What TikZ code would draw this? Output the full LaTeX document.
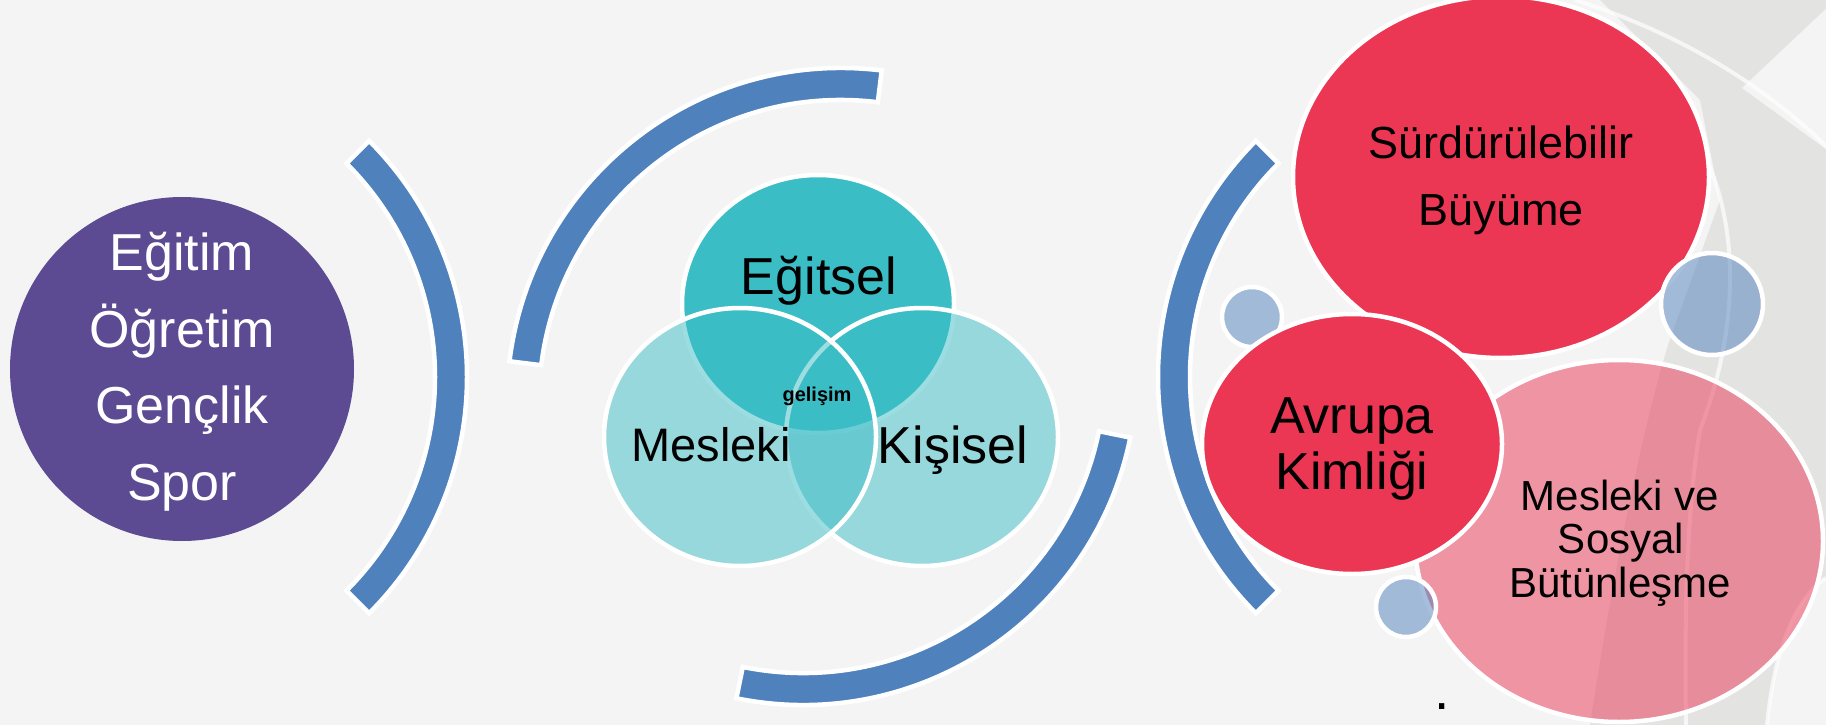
\documentclass[tikz,border=0pt]{standalone}
\usepackage{fontspec}
\setmainfont{Liberation Sans}
\usetikzlibrary{shapes.geometric}
\definecolor{bgc}{HTML}{F4F4F4}
\definecolor{arcblue}{HTML}{4F81BD}
\definecolor{purp}{HTML}{5C4A93}
\definecolor{tealc}{RGB}{59,189,198}
\definecolor{redc}{HTML}{EB3654}
\definecolor{grayd}{HTML}{E3E3E1}
\tikzset{
  bandarc/.style={fill=arcblue, draw=white, line width=4.5pt, line join=miter},
  vennc/.style={ellipse, draw=white, line width=4.5pt, fill=tealc, inner sep=0pt, minimum width=272pt, minimum height=258pt},
  redell/.style={ellipse, draw=white, line width=4.5pt, fill=redc, inner sep=0pt},
  bluedot/.style={circle, draw=white, line width=4.5pt, fill=arcblue, fill opacity=0.5, inner sep=0pt},
  txt/.style={anchor=base, inner sep=0pt, text=black},
  wtxt/.style={txt, text=white, font=\fontsize{52}{60}\selectfont},
  decoline/.style={draw=white, line width=4pt, draw opacity=0.7}
}
\begin{document}
\begin{tikzpicture}[x=1pt,y=1pt]
\useasboundingbox (0,0) rectangle (1826,-725);
\fill[bgc] (0,0) rectangle (1826,-725);
% background decoration on the right
\fill[grayd] (1600,0) -- (1826,0) -- (1826,-725) -- (1590,-725)
  .. controls (1615,-560) and (1645,-420) .. (1668,-345)
  -- (1720,-200) -- (1700,-100) -- cycle;
\fill[bgc] (1742,-88) -- (1830,-5) -- (1830,-152) -- cycle;
\draw[decoline] (1575,0) .. controls (1670,-30) and (1760,-80) .. (1830,-150);
\draw[decoline] (1707,-160) .. controls (1742,-240) and (1735,-340) .. (1700,-430)
  .. controls (1688,-500) and (1684,-600) .. (1686,-725);
\fill[bgc] (1767,-725) .. controls (1775,-640) and (1800,-595) .. (1826,-578) -- (1826,-725) -- cycle;
\draw[decoline] (1767,-725) .. controls (1775,-640) and (1800,-595) .. (1826,-578);

% block arcs
\begin{scope}[shift={(133,-377)}]
\draw[bandarc] (-45:334pt) arc[start angle=-45,end angle=45,radius=334pt] -- (45:302pt) arc[start angle=45,end angle=-45,radius=302pt] -- cycle;
\end{scope}
\begin{scope}[shift={(841,-402)}]
\draw[bandarc] (83:334pt) arc[start angle=83,end angle=173,radius=334pt] -- (173:302pt) arc[start angle=173,end angle=83,radius=302pt] -- cycle;
\end{scope}
\begin{scope}[shift={(803,-371)}]
\draw[bandarc] (-101.5:334pt) arc[start angle=-101.5,end angle=-11.5,radius=334pt] -- (-11.5:302pt) arc[start angle=-11.5,end angle=-101.5,radius=302pt] -- cycle;
\end{scope}
\begin{scope}[shift={(1492,-377)}]
\draw[bandarc] (135:334pt) arc[start angle=135,end angle=225,radius=334pt] -- (225:302pt) arc[start angle=225,end angle=135,radius=302pt] -- cycle;
\end{scope}

% left circle
\node[circle, fill=purp, inner sep=0pt, minimum size=344pt] (left) at (182,-369) {};
\node[wtxt] (l1) at (182,-270) {Eğitim};
\node[wtxt] (l2) at (182,-347) {Öğretim};
\node[wtxt] (l3) at (182,-423) {Gençlik};
\node[wtxt] (l4) at (182,-500) {Spor};

% venn
\node[vennc] (egitsel) at (818,-304) {};
\node[vennc, fill opacity=0.5] (kisisel) at (922,-437) {};
\node[vennc, fill opacity=0.5] (mesleki) at (740,-437) {};
\node[txt, font=\fontsize{52}{60}\selectfont] (tEg) at (819,-294) {Eğitsel};
\node[txt, font=\fontsize{47}{55}\selectfont] (tMe) at (711,-461) {Mesleki};
\node[txt, font=\fontsize{52}{60}\selectfont] (tKi) at (953,-463) {Kişisel};
\node[txt, font=\bfseries\fontsize{20}{24}\selectfont] (tGe) at (817,-401) {gelişim};

% right cluster
\node[redell, minimum width=416pt, minimum height=362pt] (surd) at (1501,-177) {};
\node[redell, fill opacity=0.5, minimum width=408pt, minimum height=362pt] (mvs) at (1619,-541) {};
\node[bluedot, minimum size=102pt] (b1) at (1712,-304) {};
\node[bluedot, minimum size=60pt] (b2) at (1252,-317) {};
\node[redell, minimum width=300pt, minimum height=260pt] (avr) at (1352,-444) {};
\node[bluedot, minimum size=60pt] (b3) at (1406,-607) {};

\node[txt, font=\fontsize{45}{52}\selectfont] (s1) at (1501,-158) {Sürdürülebilir};
\node[txt, font=\fontsize{45}{52}\selectfont] (s2) at (1501,-225) {Büyüme};
\node[txt, font=\fontsize{52}{60}\selectfont] (a1) at (1352,-433) {Avrupa};
\node[txt, font=\fontsize{52}{60}\selectfont] (a2) at (1352,-489) {Kimliği};
\node[txt, font=\fontsize{42}{48}\selectfont] (m1) at (1620,-510) {Mesleki ve};
\node[txt, font=\fontsize{42}{48}\selectfont] (m2) at (1621,-553) {Sosyal};
\node[txt, font=\fontsize{42}{48}\selectfont] (m3) at (1620,-597) {Bütünleşme};
\node[txt, font=\fontsize{55}{60}\selectfont] (dot) at (1442,-709) {.};
\end{tikzpicture}
\end{document}
